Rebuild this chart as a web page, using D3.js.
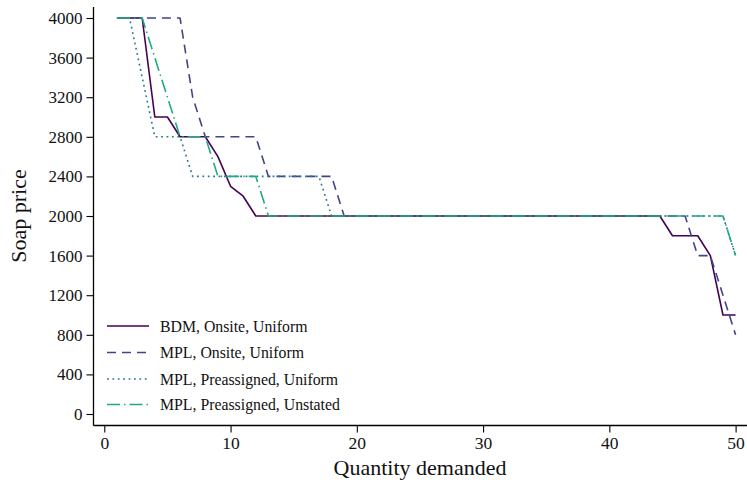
<!DOCTYPE html>
<html>
<head>
<meta charset="utf-8">
<script src="https://cdn.jsdelivr.net/npm/d3@7"></script>
<style>
  html, body { margin: 0; padding: 0; background: #fff; }
  svg { display: block; }
  text { font-family: "Liberation Serif", "DejaVu Serif", serif; fill: #111; }
</style>
</head>
<body>
<svg id="chart" width="747" height="488"></svg>
<script>
// ---- Data (quantity 1..50) ----
const quantities = d3.range(1, 51);
const seriesNames = [
  "BDM, Onsite, Uniform",
  "MPL, Onsite, Uniform",
  "MPL, Preassigned, Uniform",
  "MPL, Preassigned, Unstated"
];
const bdmOnsiteUniform = [].concat(
  [4000, 4000, 4000, 3000, 3000, 2800, 2800, 2800, 2600, 2300, 2200],
  Array(33).fill(2000),
  [1800, 1800, 1800, 1600, 1000, 1000]
);
const mplOnsiteUniform = [].concat(
  Array(6).fill(4000), [3200], Array(5).fill(2800), Array(6).fill(2400),
  Array(28).fill(2000), [1600, 1600, 1200, 800]
);
const mplPreassignedUniform = [].concat(
  [4000, 4000, 3400], Array(3).fill(2800), Array(11).fill(2400),
  Array(32).fill(2000), [1600]
);
const mplPreassignedUnstated = [].concat(
  [4000, 4000, 4000, 3600, 3200], Array(3).fill(2800), Array(4).fill(2400),
  Array(37).fill(2000), [1600]
);
const xTicks = [0, 10, 20, 30, 40, 50];
const yTicks = [0, 400, 800, 1200, 1600, 2000, 2400, 2800, 3200, 3600, 4000];

const allSeries = [bdmOnsiteUniform, mplOnsiteUniform, mplPreassignedUniform, mplPreassignedUnstated];
const colors = ["#440154", "#414487", "#2a788e", "#22a884"];
const dashes = [null, "9,6", "1.8,3.6", "13,4,1.5,4"];

// ---- Layout ----
const svg = d3.select("#chart");
const x = d3.scaleLinear().domain([0, 50]).range([104.3, 735.6]);
const y = d3.scaleLinear().domain([0, 4000]).range([414, 18]);
const axisX = 93.5, axisY = 425.5;

// axes lines
svg.append("line").attr("x1", axisX).attr("x2", axisX).attr("y1", 7).attr("y2", axisY)
  .attr("stroke", "#000").attr("stroke-width", 1.3);
svg.append("line").attr("x1", axisX).attr("x2", 747).attr("y1", axisY).attr("y2", axisY)
  .attr("stroke", "#000").attr("stroke-width", 1.3);

// y axis
const gy = svg.append("g").attr("transform", `translate(${axisX},0)`)
  .call(d3.axisLeft(y).tickValues(yTicks).tickSize(7).tickPadding(4).tickFormat(d3.format("d")));
gy.select(".domain").remove();
gy.selectAll(".tick line").attr("stroke", "#000").attr("stroke-width", 1.1);
gy.selectAll(".tick text").style("font-size", "17px").style("font-family", "Liberation Serif").attr("fill", "#111");

// x axis
const gx = svg.append("g").attr("transform", `translate(0,${axisY})`)
  .call(d3.axisBottom(x).tickValues(xTicks).tickSize(7).tickPadding(4).tickFormat(d3.format("d")));
gx.select(".domain").remove();
gx.selectAll(".tick line").attr("stroke", "#000").attr("stroke-width", 1.1);
gx.selectAll(".tick text").style("font-size", "17.5px").style("font-family", "Liberation Serif").attr("fill", "#111");

// titles
svg.append("text").attr("x", 420).attr("y", 475).attr("text-anchor", "middle")
  .style("font-size", "22px").text("Quantity demanded");
svg.append("text").attr("transform", "translate(26,216) rotate(-90)").attr("text-anchor", "middle")
  .style("font-size", "22px").text("Soap price");

// lines
const line = d3.line().x((d, i) => x(quantities[i])).y(d => y(d));
allSeries.forEach((s, k) => {
  svg.append("path").datum(s).attr("d", line)
    .attr("fill", "none").attr("stroke", colors[k]).attr("stroke-width", 1.6)
    .attr("stroke-dasharray", dashes[k]).attr("stroke-linejoin", "round");
});

// legend
const legY = [326, 352.5, 379, 404.5];
seriesNames.forEach((name, k) => {
  svg.append("line").attr("x1", 107).attr("x2", 149).attr("y1", legY[k]).attr("y2", legY[k])
    .attr("stroke", colors[k]).attr("stroke-width", 1.6).attr("stroke-dasharray", dashes[k]);
  svg.append("text").attr("x", 160).attr("y", legY[k]).attr("dy", "0.35em")
    .style("font-size", "15.8px").text(name);
});
</script>
</body>
</html>
